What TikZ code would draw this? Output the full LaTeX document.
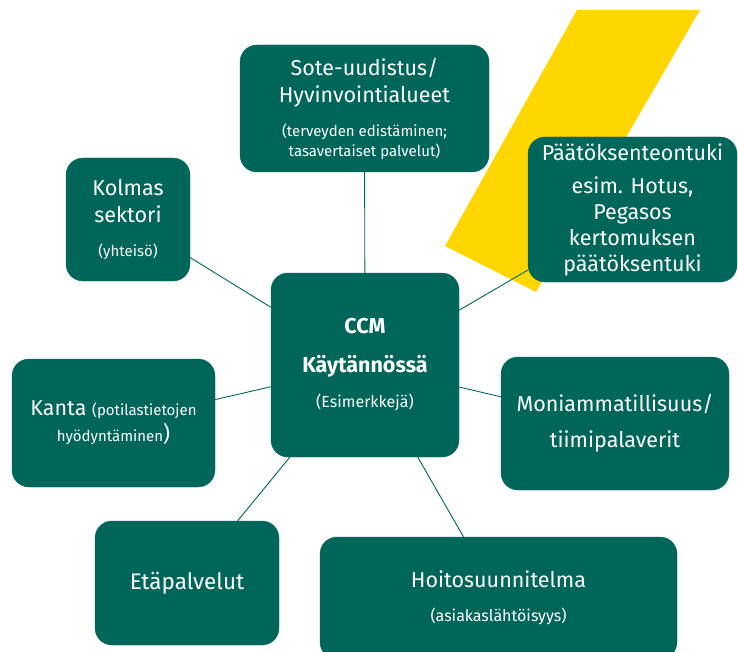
\documentclass[tikz,border=0pt]{standalone}
\usepackage{fontspec}
\setmainfont{Fira Sans}
\usepackage{tikz}
\usepackage{xcolor}
\usetikzlibrary{positioning}

\definecolor{ccmgreen}{RGB}{0,102,89}
\definecolor{ccmyellow}{RGB}{255,214,0}
\newcommand{\bigtxt}{\fontsize{21.5}{26}\selectfont}
\newcommand{\smalltxt}{\fontsize{15}{18}\selectfont}

\tikzset{
    box/.style={fill=ccmgreen, draw=ccmgreen, rounded corners=17pt, text=white,
        align=center, inner sep=0pt, font=\bigtxt},
    link/.style={draw=ccmgreen, line width=0.9pt}
}

\begin{document}
\begin{tikzpicture}[x=1pt, y=-1pt]
    \useasboundingbox (0, 0) rectangle (738, 652);
    \fill[ccmyellow] (577, 10) -- (700, 10) -- (536, 292) -- (445, 246) -- cycle;

    \node[box, minimum width=249pt, minimum height=127pt] (sote) at (364.5, 108.5)
        {Sote-uudistus/\\[1pt]Hyvinvointialueet\\[8pt]\smalltxt (terveyden edistäminen;\\[-6pt]\smalltxt tasavertaiset palvelut)};
    \node[box, minimum width=124pt, minimum height=123pt] (kolmas) at (128, 219.5)
        {Kolmas\\[1pt]sektori\\[8pt]\smalltxt (yhteisö)};
    \node[box, minimum width=209pt, minimum height=145pt, font=\fontsize{21.5}{25.75}\selectfont] (paatos) at (632.5, 209.5)
        {Päätöksenteontuki\\[8pt]esim. Hotus,\\Pegasos\\kertomuksen\\päätöksentuki};
    \node[box, minimum width=188pt, minimum height=184pt] (ccm) at (365, 365)
        {\bfseries CCM\\[13pt]\bfseries Käytännössä\\[9pt]\fontsize{16}{19}\selectfont (Esimerkkejä)};
    \node[box, minimum width=203pt, minimum height=128pt] (kanta) at (113.5, 423)
        {Kanta {\smalltxt (potilastietojen}\\{\smalltxt hyödyntäminen})};
    \node[box, minimum width=228pt, minimum height=133pt] (moni) at (615, 423.5)
        {Moniammatillisuus/\\[10pt]tiimipalaverit};
    \node[box, minimum width=184pt, minimum height=124pt, font=\fontsize{22.5}{26}\selectfont] (eta) at (187, 583)
        {Etäpalvelut};
    \node[box, minimum width=357pt, minimum height=122pt] (hoito) at (498.5, 598)
        {Hoitosuunnitelma\\[8pt]\fontsize{16}{19}\selectfont (asiakaslähtöisyys)};

    \draw[link]
    (ccm) edge (sote)
    (ccm) edge (kolmas)
    (ccm) edge (paatos)
    (ccm) edge (moni)
    (ccm) edge (kanta)
    (ccm) edge (eta)
    (ccm) edge (hoito);
\end{tikzpicture}
\end{document}
